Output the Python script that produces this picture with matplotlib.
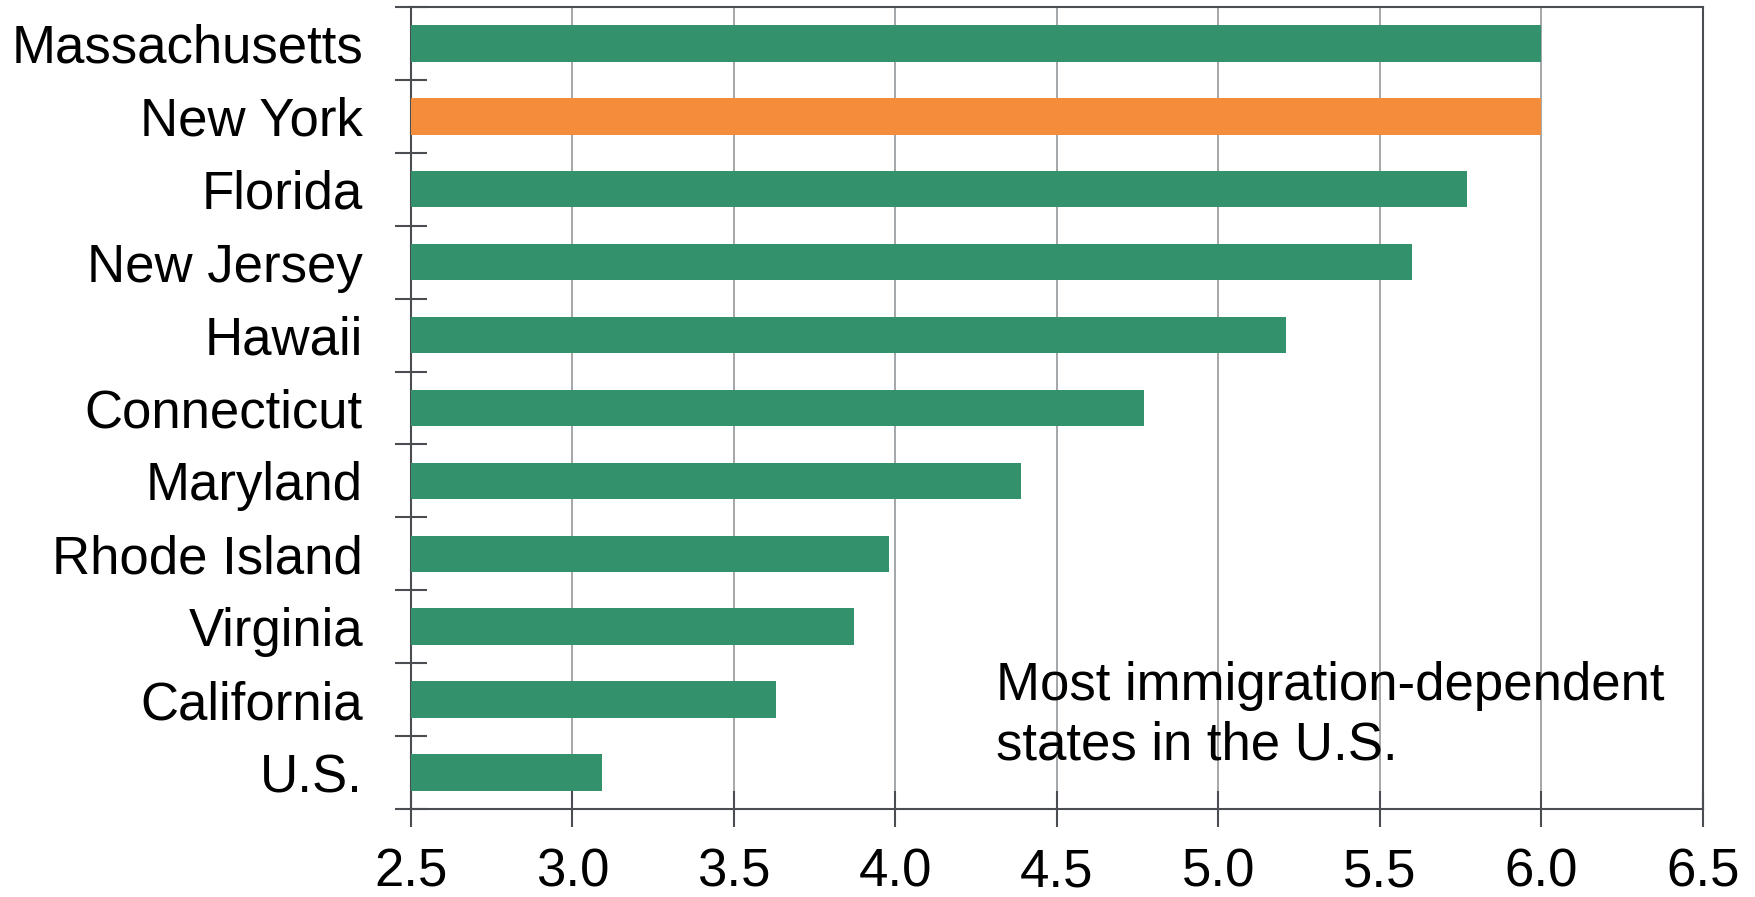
import matplotlib
matplotlib.use("Agg")
import matplotlib.pyplot as plt
import numpy as np

states = ["Massachusetts", "New York", "Florida", "New Jersey", "Hawaii",
          "Connecticut", "Maryland", "Rhode Island", "Virginia", "California", "U.S."]
values = [6.0, 6.0, 5.77, 5.60, 5.21, 4.77, 4.39, 3.98, 3.87, 3.63, 3.09]
highlight = "New York"
xticks = [2.5, 3.0, 3.5, 4.0, 4.5, 5.0, 5.5, 6.0, 6.5]
note_lines = ["Most immigration-dependent", "states in the U.S."]

GREEN = "#33926C"
ORANGE = "#F38C3B"
SPINE = "#4A4D52"
GRID = "#9DA0A4"

plt.rcParams['font.family'] = ['Liberation Sans', 'DejaVu Sans']

fig = plt.figure(figsize=(17.56, 8.97), dpi=100)
ax = fig.add_axes([411/1756, 1-809/897, (1703-411)/1756, (809-7)/897])

y = np.arange(len(states))
colors = [ORANGE if s == highlight else GREEN for s in states]
ax.barh(y, [v - 2.5 for v in values], left=2.5, height=0.5, color=colors, zorder=3)

ax.set_xlim(2.5, 6.5)
ax.set_ylim(len(states) - 0.5, -0.5)
ax.set_xticks(xticks)
ax.set_xticklabels([f"{t:.1f}" for t in xticks])
ax.set_yticks(np.arange(-0.5, len(states) + 0.5, 1.0))
ax.set_yticklabels([])
ax.set_yticks(y, minor=True)
ax.set_yticklabels(states, minor=True)
ax.tick_params(axis='y', which='minor', length=0, pad=34.6, labelsize=38)
ax.tick_params(axis='y', which='major', direction='inout', length=23, width=1.5, color=SPINE)
ax.tick_params(axis='x', direction='inout', length=26, width=1.5, color=SPINE, pad=15, labelsize=38)

ax.grid(axis='x', color=GRID, linewidth=1.3, zorder=0)
ax.set_axisbelow(True)
for sp in ax.spines.values():
    sp.set_color(SPINE)
    sp.set_linewidth(1.5)

fig.text(996/1756, 1-700/897, note_lines[0], fontsize=38, va='baseline', ha='left')
fig.text(996/1756, 1-759/897, note_lines[1], fontsize=38, va='baseline', ha='left')

fig.savefig("out.png", dpi=100)
